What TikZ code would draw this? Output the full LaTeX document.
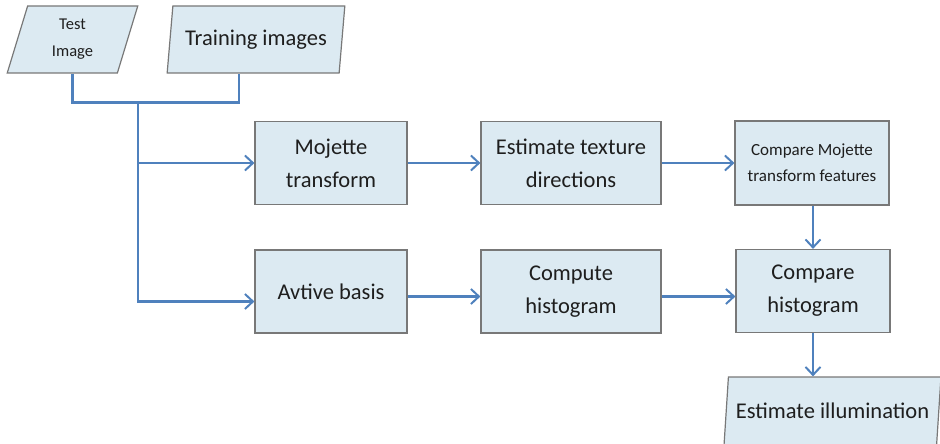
\documentclass[tikz,border=0pt]{standalone}
\usepackage{fontspec}
\setmainfont{Carlito}
\usetikzlibrary{arrows.meta,shapes.geometric}
\definecolor{boxfill}{RGB}{220,234,242}
\definecolor{boxline}{RGB}{120,120,120}
\definecolor{flowblue}{RGB}{79,129,189}
\definecolor{inktext}{RGB}{30,30,30}

\begin{document}
\begin{tikzpicture}[
    x=1pt,y=-1pt,
    >={Straight Barb[length=8pt,width=15pt,line width=2pt]},
    proc/.style={draw=boxline,fill=boxfill,line width=1.2pt,align=center,
        text=inktext,inner sep=1pt,font=\fontsize{22.5}{33}\selectfont},
    data/.style={trapezium,trapezium left angle=77,trapezium right angle=103,
        trapezium stretches=true,draw=boxline,fill=boxfill,line width=1.2pt,
        align=center,text=inktext,inner sep=1pt,font=\fontsize{22.5}{33}\selectfont},
    flow/.style={flowblue,line width=2.4pt},
]
\clip (0,0) rectangle (940,444);

% inputs
\node[data,minimum width=131pt,minimum height=67pt,
    font=\fontsize{16.5}{27}\selectfont] (test) at (72.5,39.5) {Test\\Image};
\node[data,minimum width=178pt,minimum height=67pt] (train) at (256,39.5) {Training images};

% top row
\node[proc,minimum width=152pt,minimum height=83pt] (mojette) at (331,163) {Mojette\\transform};
\node[proc,minimum width=180pt,minimum height=83pt] (texture) at (571,163) {Estimate texture\\directions};
\node[proc,minimum width=154pt,minimum height=84pt,
    font=\fontsize{17}{26}\selectfont] (cmpmoj) at (812,163) {Compare Mojette\\transform features};

% bottom row
\node[proc,minimum width=152pt,minimum height=83pt] (basis) at (331,291.5) {Avtive basis};
\node[proc,minimum width=180pt,minimum height=83pt] (hist) at (571,291.5) {Compute\\histogram};
\node[proc,minimum width=154pt,minimum height=83pt] (cmphist) at (813,291) {Compare\\histogram};

% output
\node[data,minimum width=217pt,minimum height=68pt] (illum) at (832.5,411) {Estimate illumination};

% connectors
\coordinate (trunk) at (138,102);
\draw[flow] (test.south) -- ++(0,29) -| ([xshift=-17pt]train.south);
\draw[flow,->] (trunk) |- ([yshift=-10pt]basis.west);
\draw[flow,->] (trunk |- mojette.west) -- (mojette.west);
\draw[flow,->] (mojette) -- (texture);
\draw[flow,->] (texture) -- (cmpmoj);
\draw[flow,->] ([yshift=-5pt]basis.east) -- ([yshift=-5pt]hist.west);
\draw[flow,->] ([yshift=-5pt]hist.east) -- ([yshift=-5pt]hist.east -| cmphist.west);
\draw[flow,->] (cmpmoj.south -| cmphist.north) -- (cmphist.north);
\draw[flow,->] (cmphist.south) -- (cmphist.south |- illum.north);
\end{tikzpicture}
\end{document}
